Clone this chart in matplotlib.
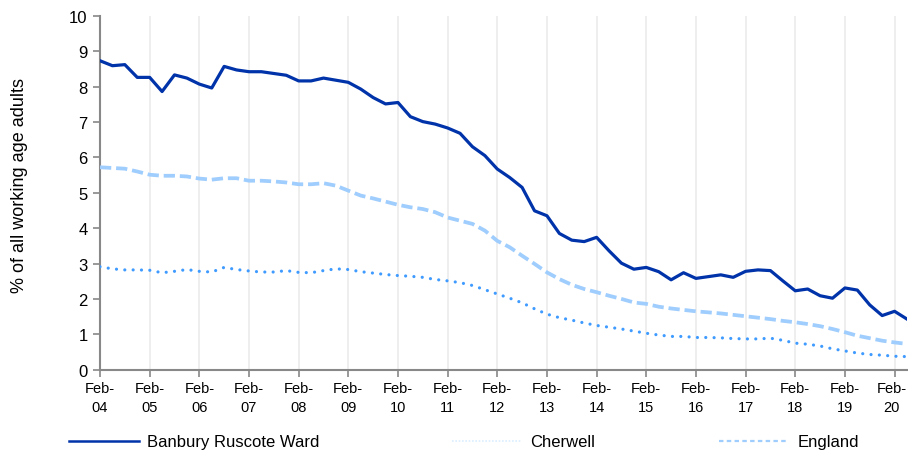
import matplotlib
matplotlib.use('Agg')
import matplotlib.pyplot as plt
import matplotlib.transforms as mtransforms
from matplotlib.lines import Line2D

plt.rcParams['font.family'] = ['Liberation Sans', 'DejaVu Sans']

# quarterly values, Feb-04 .. May-20
banbury = [8.73, 8.59, 8.62, 8.26, 8.26, 7.86, 8.33, 8.24, 8.07, 7.96,
           8.57, 8.47, 8.42, 8.42, 8.37, 8.32, 8.16, 8.16, 8.24, 8.18,
           8.12, 7.93, 7.69, 7.51, 7.55, 7.15, 7.01, 6.94, 6.83, 6.68,
           6.30, 6.05, 5.67, 5.43, 5.15, 4.49, 4.35, 3.85, 3.66, 3.62,
           3.74, 3.36, 3.01, 2.84, 2.89, 2.77, 2.54, 2.74, 2.58, 2.63,
           2.68, 2.61, 2.78, 2.82, 2.80, 2.51, 2.23, 2.28, 2.09, 2.02,
           2.31, 2.25, 1.83, 1.53, 1.65, 1.43]
cherwell = [2.91, 2.85, 2.82, 2.82, 2.81, 2.74, 2.78, 2.83, 2.78, 2.76,
            2.89, 2.83, 2.79, 2.76, 2.76, 2.80, 2.75, 2.74, 2.80, 2.85,
            2.83, 2.77, 2.73, 2.69, 2.66, 2.64, 2.61, 2.55, 2.51, 2.46,
            2.38, 2.26, 2.14, 2.02, 1.89, 1.72, 1.57, 1.47, 1.40, 1.32,
            1.25, 1.20, 1.15, 1.09, 1.03, 0.98, 0.94, 0.94, 0.91, 0.91,
            0.90, 0.88, 0.87, 0.87, 0.89, 0.83, 0.75, 0.72, 0.67, 0.59,
            0.53, 0.47, 0.43, 0.41, 0.38, 0.37]
england = [5.72, 5.70, 5.68, 5.60, 5.51, 5.48, 5.48, 5.46, 5.40, 5.37,
           5.41, 5.41, 5.34, 5.34, 5.32, 5.29, 5.24, 5.24, 5.27, 5.20,
           5.06, 4.92, 4.84, 4.75, 4.66, 4.59, 4.54, 4.45, 4.30, 4.21,
           4.12, 3.93, 3.64, 3.46, 3.22, 2.99, 2.75, 2.56, 2.40, 2.28,
           2.19, 2.09, 2.00, 1.90, 1.86, 1.78, 1.73, 1.69, 1.65, 1.62,
           1.59, 1.55, 1.51, 1.47, 1.43, 1.38, 1.34, 1.29, 1.23, 1.15,
           1.06, 0.96, 0.89, 0.82, 0.77, 0.73]
years = ['04', '05', '06', '07', '08', '09', '10', '11', '12',
         '13', '14', '15', '16', '17', '18', '19', '20']
tick_labels = ['Feb-\n' + y for y in years]

c_ban = '#0033aa'
c_che = '#3f9bff'
c_eng = '#9fcdfd'

fig = plt.figure(figsize=(9.08, 4.56), dpi=100)
ax = fig.add_axes([100 / 908, 85.3 / 456, 807 / 908, 353.9 / 456])

x = list(range(len(banbury)))
ax.plot(x, england, color=c_eng, lw=2.7, linestyle=(0, (3.0, 1.3)), zorder=3)
ax.plot(x, cherwell, color=c_che, lw=2.3, linestyle=(0, (0.01, 2.6)),
        dash_capstyle='round', zorder=3)
ax.plot(x, banbury, color=c_ban, lw=2.3, zorder=4)

ax.set_xlim(0, len(banbury) - 1)
ax.set_ylim(0, 10)
ax.set_yticks(range(0, 11))
ax.set_xticks(range(0, len(banbury), 4))
ax.set_xticklabels(tick_labels, fontsize=10.5, linespacing=1.5)
ax.tick_params(axis='y', labelsize=12, length=5, width=1.2, color='#888888', pad=4)
ax.tick_params(axis='x', length=5, width=1.2, color='#888888', pad=3)
ax.grid(axis='x', color='#ebebeb', lw=1.2)
ax.set_axisbelow(True)
for s in ['top', 'right']:
    ax.spines[s].set_visible(False)
for s in ['left', 'bottom']:
    ax.spines[s].set_color('#888888')
    ax.spines[s].set_linewidth(1.5)

# keep the last label inside the canvas
last = ax.get_xticklabels()[-1]
last.set_transform(last.get_transform() +
                   mtransforms.ScaledTranslation(-3 / 100, 0, fig.dpi_scale_trans))

fig.text(20 / 908, 1 - 185.5 / 456, '% of all working age adults', rotation=90,
         ha='center', va='center', fontsize=13)

# legend, one entry at a time to match the spacing
entries = [
    (Line2D([], [], color=c_ban, lw=1.8), 'Banbury Ruscote Ward', 69),
    (Line2D([], [], color='#dceeff', lw=1.2, linestyle=(0, (1, 1))), 'Cherwell', 452),
    (Line2D([], [], color=c_eng, lw=1.6, linestyle=(0, (2, 1.5))), 'England', 719),
]
for h, lab, xp in entries:
    fig.legend(handles=[h], labels=[lab], loc='center left',
               bbox_to_anchor=(xp / 908, 1 - 443 / 456), frameon=False,
               borderpad=0, borderaxespad=0, handlelength=4.2,
               handletextpad=0.5, fontsize=12)

fig.savefig('out.png', dpi=100)
